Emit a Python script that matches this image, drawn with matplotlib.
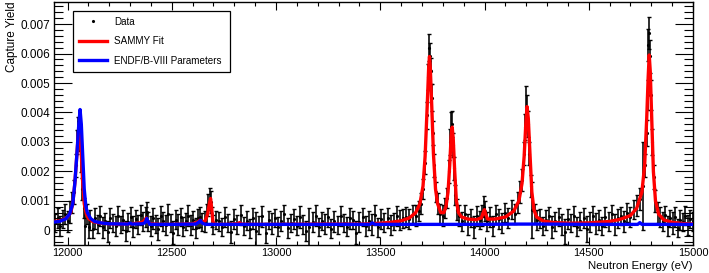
import matplotlib
matplotlib.use("Agg")
import matplotlib.pyplot as plt
from matplotlib.lines import Line2D
from matplotlib.ticker import MultipleLocator
import numpy as np

plt.rcParams['font.family'] = ['Liberation Sans', 'DejaVu Sans']

e_data = [
    # 11940 - 12102
    11940, 11952, 11964, 11976, 11988, 12000, 12010, 12020, 12030, 12040,
    12045, 12050, 12055, 12060, 12065, 12070, 12078, 12086, 12094, 12102,
    # 12110 - 12362
    12110, 12122, 12134, 12146, 12158, 12170, 12182, 12194, 12206, 12218,
    12230, 12242, 12254, 12266, 12278, 12290, 12302, 12314, 12326, 12338,
    12350, 12362,
    # 12374 - 12712
    12374, 12380, 12386, 12398, 12410, 12422, 12434, 12446, 12458, 12470,
    12482, 12494, 12506, 12518, 12530, 12542, 12554, 12566, 12578, 12590,
    12602, 12614, 12626, 12636, 12646, 12658, 12668, 12676, 12682, 12688,
    12694, 12700, 12712,
    # 12725 - 13685
    12725, 12740, 12755, 12770, 12785, 12800, 12815, 12830, 12845, 12860,
    12875, 12890, 12905, 12920, 12935, 12950, 12965, 12980, 12995, 13010,
    13025, 13040, 13055, 13070, 13085, 13100, 13115, 13130, 13145, 13160,
    13175, 13190, 13205, 13220, 13235, 13250, 13265, 13280, 13295, 13310,
    13325, 13340, 13355, 13370, 13385, 13400, 13415, 13430, 13445, 13460,
    13475, 13490, 13505, 13520, 13535, 13550, 13565, 13580, 13595, 13610,
    13625, 13640, 13655, 13670, 13685,
    # 13697 - 13878
    13697, 13707, 13715, 13722, 13728, 13733, 13737, 13741, 13746, 13752,
    13759, 13767, 13777, 13788, 13800, 13812, 13822, 13830, 13836, 13841,
    13845, 13849, 13854, 13860, 13868, 13878,
    # 13890 - 14170
    13890, 13905, 13920, 13935, 13950, 13965, 13980, 13990, 13998, 14004,
    14012, 14025, 14040, 14055, 14070, 14085, 14100, 14115, 14130, 14145,
    14160, 14170,
    # 14180 - 14252
    14180, 14188, 14194, 14199, 14204, 14209, 14215, 14222, 14230, 14240,
    14252,
    # 14265 - 14760
    14265, 14280, 14295, 14310, 14325, 14340, 14355, 14370, 14385, 14400,
    14415, 14430, 14445, 14460, 14475, 14490, 14505, 14520, 14535, 14550,
    14565, 14580, 14595, 14610, 14625, 14640, 14655, 14670, 14685, 14700,
    14715, 14730, 14745, 14760,
    # 14770 - 14842
    14770, 14777, 14782, 14786, 14790, 14794, 14799, 14805, 14812, 14820,
    14830, 14842,
    # 14855 - 14998
    14855, 14867, 14879, 14891, 14903, 14915, 14927, 14939, 14951, 14963,
    14975, 14987, 14998,
]
y_data = [
    0.25, 0.42, 0.15, 0.38, 0.55, 0.30, 0.62, 0.95, 1.30, 2.20,
    3.00, 3.45, 3.30, 3.10, 2.35, 1.40, 0.75, 0.15, 0.55, 0.10,
    0.35, 0.05, 0.40, 0.22, 0.48, 0.10, 0.30, -0.05, 0.42, 0.25,
    0.15, 0.50, 0.20, 0.35, -0.02, 0.28, 0.45, 0.12, 0.38, 0.20,
    0.52, 0.30,
    0.45, 0.62, 0.30, 0.15, 0.40, 0.22, 0.05, 0.48, 0.30, 0.18,
    0.55, 0.25, -0.08, 0.36, 0.20, 0.44, 0.12, 0.30, 0.50, 0.18,
    0.35, 0.08, 0.40, 0.45, 0.28, 0.30, 0.55, 0.85, 1.05, 0.95,
    0.45, 0.20, 0.35,
    0.30, 0.10, 0.45, 0.25, -0.05, 0.38, 0.20, 0.52, 0.15, 0.33,
    0.05, 0.40, -0.02, 0.18, 0.48, -0.10, 0.35, 0.22, 0.42, 0.12,
    0.30, 0.55, 0.08, 0.25, 0.38, 0.15, 0.45, 0.20, -0.02, 0.10,
    0.28, 0.50, 0.10, 0.32, 0.22, 0.44, 0.05, 0.30, 0.18, 0.48,
    0.25, 0.12, 0.40, 0.35, -0.08, 0.28, 0.46, 0.15, 0.32, 0.20,
    0.52, 0.10, 0.38, 0.26, 0.42, 0.18, 0.30, 0.48, 0.35, 0.40,
    0.45, 0.38, 0.55, 0.50, 0.65,
    0.90, 1.40, 2.30, 3.90, 5.20, 6.20, 5.90, 5.40, 4.50, 3.30,
    2.20, 1.30, 0.90, 0.55, 0.50, 0.75, 1.10, 2.00, 3.00, 3.50,
    3.60, 2.90, 2.10, 1.20, 0.70, 0.50,
    0.30, 0.55, 0.20, 0.42, 0.10, 0.48, 0.35, 0.50, 0.80, 0.65,
    0.30, 0.45, 0.15, 0.55, 0.38, 0.25, 0.60, 0.42, 0.70, 0.55,
    0.95, 1.30,
    1.70, 2.60, 3.50, 4.20, 4.10, 3.60, 2.60, 1.50, 0.70, 0.55,
    0.35,
    0.40, 0.15, 0.35, 0.50, 0.10, 0.30, 0.45, 0.20, -0.05, 0.38,
    0.25, 0.48, 0.12, 0.32, 0.42, 0.05, 0.28, 0.50, 0.22, 0.35,
    0.15, 0.45, 0.30, 0.55, 0.20, 0.40, 0.48, 0.30, 0.60, 0.45,
    0.70, 0.85, 1.05, 1.50,
    2.20, 3.30, 4.60, 6.30, 6.70, 5.90, 4.60, 3.00, 1.80, 1.00,
    0.60, 0.45,
    0.30, 0.52, 0.15, 0.40, 0.25, 0.45, 0.08, 0.35, 0.28, 0.50,
    0.18, 0.38, 0.30,
]
dy_data = [
    0.30, 0.33, 0.35, 0.30, 0.33, 0.35, 0.37, 0.35, 0.40, 0.40,
    0.40, 0.40, 0.40, 0.40, 0.38, 0.37, 0.35, 0.70, 0.33, 0.35,
    0.33, 0.30, 0.35, 0.31, 0.33, 0.35, 0.30, 0.35, 0.33, 0.31,
    0.35, 0.33, 0.30, 0.35, 0.33, 0.31, 0.33, 0.35, 0.30, 0.33,
    0.35, 0.31,
    0.33, 0.35, 0.31, 0.33, 0.35, 0.30, 0.37, 0.33, 0.31, 0.35,
    0.33, 0.30, 0.40, 0.33, 0.35, 0.31, 0.33, 0.30, 0.35, 0.33,
    0.31, 0.35, 0.33, 0.33, 0.31, 0.35, 0.35, 0.37, 0.37, 0.37,
    0.35, 0.33, 0.31,
    0.33, 0.31, 0.35, 0.30, 0.37, 0.33, 0.31, 0.35, 0.30, 0.33,
    0.32, 0.34, 0.65, 0.30, 0.36, 0.33, 0.29, 0.35, 0.31, 0.32,
    0.34, 0.31, 0.35, 0.30, 0.33, 0.32, 0.36, 0.31, 0.34, 0.65,
    0.33, 0.35, 0.31, 0.30, 0.34, 0.33, 0.32, 0.35, 0.31, 0.33,
    0.30, 0.33, 0.35, 0.32, 0.38, 0.33, 0.31, 0.34, 0.32, 0.35,
    0.33, 0.32, 0.35, 0.31, 0.33, 0.34, 0.30, 0.35, 0.33, 0.32,
    0.33, 0.35, 0.31, 0.35, 0.33,
    0.35, 0.35, 0.40, 0.45, 0.45, 0.45, 0.45, 0.45, 0.45, 0.40,
    0.40, 0.35, 0.35, 0.35, 0.35, 0.35, 0.35, 0.40, 0.45, 0.50,
    0.45, 0.40, 0.40, 0.35, 0.35, 0.35,
    0.33, 0.31, 0.35, 0.30, 0.37, 0.33, 0.31, 0.35, 0.35, 0.33,
    0.31, 0.35, 0.33, 0.30, 0.35, 0.33, 0.31, 0.35, 0.33, 0.35,
    0.35, 0.37,
    0.37, 0.40, 0.45, 0.70, 0.50, 0.45, 0.40, 0.37, 0.95, 0.35,
    0.33,
    0.33, 0.31, 0.35, 0.30, 0.37, 0.33, 0.31, 0.35, 0.43, 0.33,
    0.31, 0.35, 0.33, 0.30, 0.35, 0.45, 0.33, 0.31, 0.35, 0.33,
    0.30, 0.35, 0.33, 0.31, 0.35, 0.33, 0.30, 0.35, 0.33, 0.35,
    0.33, 0.35, 0.37, 1.50,
    0.40, 0.45, 0.50, 0.55, 0.55, 0.55, 0.50, 0.45, 0.40, 0.37,
    0.35, 0.35,
    0.33, 0.31, 0.35, 0.30, 0.37, 0.33, 0.31, 0.35, 0.30, 0.33,
    0.35, 0.31, 0.33,
]

# SAMMY fit curve (units of 1e-3)
sammy_e = [11935, 11960, 11980, 12000, 12015, 12025, 12035, 12045, 12052, 12056,
           12060, 12066, 12072, 12080, 12090, 12100, 12120, 12150, 12200, 12250,
           12300, 12340, 12360, 12372, 12378, 12384, 12395, 12450, 12500, 12600,
           12625, 12635, 12645, 12660, 12672, 12680, 12686, 12692, 12697, 12705,
           12760, 12815, 12825, 12835, 12900, 13000, 13200, 13400, 13450, 13500,
           13550, 13600, 13640, 13670, 13690, 13705, 13715, 13725, 13732, 13736,
           13740, 13747, 13755, 13765, 13775, 13790, 13805, 13815, 13825, 13833,
           13840, 13845, 13850, 13857, 13865, 13875, 13890, 13920, 13960, 13985,
           13995, 14000, 14005, 14015, 14050, 14100, 14140, 14165, 14180, 14190,
           14198, 14204, 14210, 14218, 14227, 14237, 14250, 14280, 14320, 14400,
           14500, 14600, 14650, 14700, 14730, 14755, 14768, 14778, 14785, 14790,
           14795, 14802, 14810, 14820, 14835, 14860, 14900, 14950, 15000]
sammy_y = [0.30, 0.32, 0.36, 0.45, 0.60, 0.90, 1.60, 2.60, 3.30, 3.50,
           3.30, 2.60, 1.70, 0.90, 0.55, 0.40, 0.30, 0.25, 0.22, 0.21,
           0.22, 0.24, 0.28, 0.36, 0.42, 0.30, 0.22, 0.20, 0.20, 0.22,
           0.28, 0.34, 0.27, 0.32, 0.55, 0.90, 1.08, 0.70, 0.30, 0.20,
           0.20, 0.22, 0.26, 0.21, 0.20, 0.20, 0.21, 0.21, 0.22, 0.24,
           0.27, 0.32, 0.42, 0.60, 0.90, 1.50, 2.50, 4.20, 5.50, 5.90,
           5.50, 4.20, 2.60, 1.40, 0.90, 0.60, 0.60, 0.80, 1.30, 2.20,
           3.20, 3.50, 3.10, 2.00, 1.00, 0.60, 0.45, 0.38, 0.36, 0.42,
           0.62, 0.70, 0.55, 0.38, 0.38, 0.45, 0.65, 1.00, 1.60, 2.50,
           3.60, 4.20, 3.80, 2.60, 1.30, 0.70, 0.45, 0.32, 0.27, 0.24,
           0.25, 0.30, 0.37, 0.50, 0.75, 1.30, 2.20, 3.80, 5.20, 5.95,
           5.40, 3.80, 2.00, 1.00, 0.55, 0.35, 0.27, 0.23, 0.21]

# ENDF/B-VIII curve (units of 1e-3)
endf_e = [11935, 11960, 11990, 12010, 12025, 12035, 12045, 12053, 12060, 12066,
          12073, 12080, 12088, 12095, 12110, 12130, 12160, 12200, 12290, 12300,
          12310, 12360, 12372, 12380, 12386, 12395, 12500, 12615, 12630, 12637,
          12645, 12660, 12800, 13000, 13200, 13450, 13462, 13474, 13700, 14000,
          14150, 14300, 14500, 14735, 14745, 14755, 15000]
endf_y = [0.28, 0.30, 0.38, 0.55, 0.90, 1.60, 2.60, 3.50, 4.10, 3.60,
          2.50, 1.40, 0.80, 0.60, 0.40, 0.30, 0.25, 0.22, 0.21, 0.24,
          0.21, 0.22, 0.26, 0.40, 0.30, 0.20, 0.20, 0.21, 0.28, 0.33,
          0.25, 0.20, 0.20, 0.20, 0.20, 0.20, 0.25, 0.20, 0.20, 0.20,
          0.21, 0.21, 0.20, 0.20, 0.26, 0.20, 0.20]

scale = 1e-3

fig = plt.figure(figsize=(7.09, 2.73), dpi=100)
ax = fig.add_axes([54 / 709, 1 - 245 / 273, 639 / 709, 243 / 273])

ax.errorbar(e_data, np.array(y_data) * scale, yerr=np.array(dy_data) * scale,
            fmt='.', color='black', ms=2.5, elinewidth=1.15, capsize=1.5,
            capthick=1.0, zorder=2)
ax.plot(sammy_e, np.array(sammy_y) * scale, color='#ff0000', lw=2.4, zorder=3)
ax.plot(endf_e, np.array(endf_y) * scale, color='#0000ff', lw=2.4, zorder=4)

ax.set_xlim(11935, 15000)
ax.set_ylim(-0.0005, 0.00775)
ax.xaxis.set_major_locator(MultipleLocator(500))
ax.xaxis.set_minor_locator(MultipleLocator(100))
ax.yaxis.set_minor_locator(MultipleLocator(0.0002))
ax.set_yticks([0, 0.001, 0.002, 0.003, 0.004, 0.005, 0.006, 0.007])
ax.set_yticklabels(['0', '0.001', '0.002', '0.003', '0.004', '0.005', '0.006', '0.007'])

ax.tick_params(axis='both', which='both', direction='in', top=True, right=True,
               width=0.8)
ax.tick_params(axis='y', which='major', length=13, pad=3, labelsize=8.5)
ax.tick_params(axis='y', which='minor', length=6.5)
ax.tick_params(axis='x', which='major', length=5.8, pad=2.5, labelsize=7.9)
ax.tick_params(axis='x', which='minor', length=3)
for sp in ax.spines.values():
    sp.set_linewidth(1.0)

fig.text(12 / 709, 1 - 2 / 273, 'Capture Yield', rotation=90, ha='center', va='top',
         fontsize=8.5)
fig.text(693 / 709, 1 - 266 / 273, 'Neutron Energy (eV)', ha='right', va='center',
         fontsize=8.2)

handles = [
    Line2D([], [], ls='none', marker='.', ms=2.5, color='black'),
    Line2D([], [], color='#ff0000', lw=2.4),
    Line2D([], [], color='#0000ff', lw=2.4),
]
labels = ['Data', 'SAMMY Fit', 'ENDF/B-VIII Parameters']
leg = ax.legend(handles, labels, loc='upper left',
                bbox_to_anchor=(19 / 639, 1 - 71 / 243, 157 / 639, 62 / 243),
                mode='expand', borderaxespad=0, fontsize=7.1, fancybox=False,
                framealpha=1, edgecolor='black', handlelength=2.8,
                handletextpad=0.8, labelspacing=0.95, borderpad=0.6)
leg.get_frame().set_linewidth(0.9)

fig.savefig('out.png', dpi=100)
